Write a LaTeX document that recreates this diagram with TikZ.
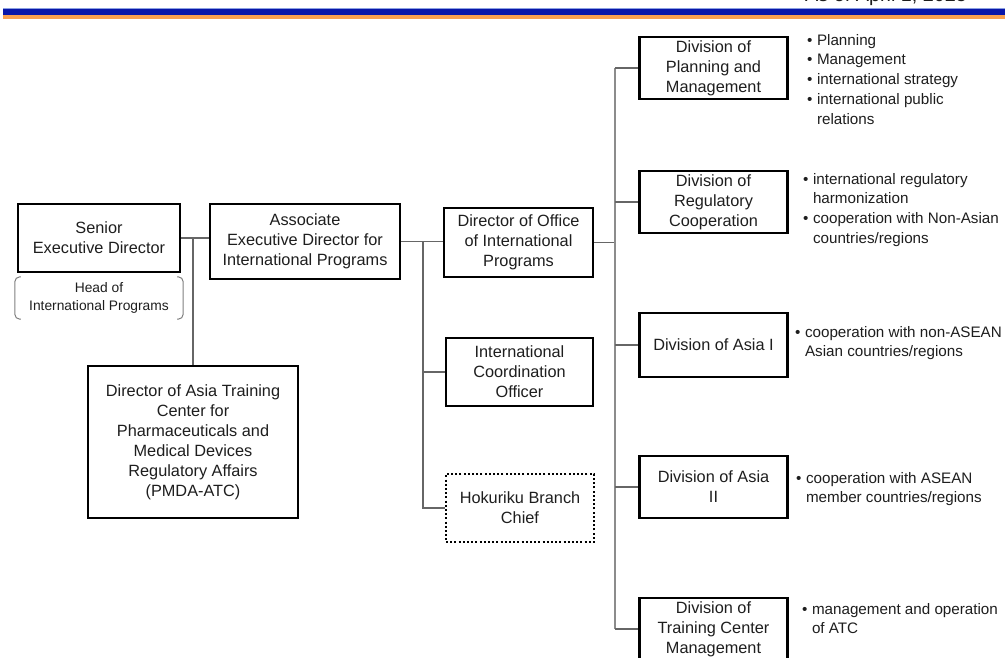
\documentclass[tikz,border=0pt]{standalone}
\usepackage{fontspec}
\setmainfont{Liberation Sans}
\usetikzlibrary{calc}
\definecolor{hdrblue}{RGB}{8,22,170}
\definecolor{hdrlight}{RGB}{140,160,225}
\definecolor{hdrorange}{RGB}{248,160,80}
\definecolor{txt}{RGB}{30,30,30}
\newcommand\boxfont{\fontsize{16.3}{20}\selectfont}
\newcommand\notefont{\fontsize{15.2}{19.8}\selectfont}
\newcommand\headfont{\fontsize{13.8}{18}\selectfont}
\tikzset{
  box/.style={draw=black, line width=2.4pt, rectangle, inner sep=0pt, align=center, font=\boxfont, text=txt},
  dotbox/.style={box, line width=2.4pt, dash pattern=on 2pt off 2.2pt},
  conn/.style={draw=black!60, line width=1.2pt},
  bus/.style={draw=black!45, line width=2pt},
  bracket/.style={draw=black!50, line width=1pt, rounded corners=5pt},
  notes/.style={anchor=base west, inner sep=0pt, font=\notefont, text=txt},
}
\begin{document}
\begin{tikzpicture}[x=1pt, y=-1pt]
\useasboundingbox (0,0) rectangle (1005,657);
\fill[white] (0,0) rectangle (1005,657);
% header band
\fill[hdrlight] (3,7.8) rectangle (1005,9);
\fill[hdrblue] (3,9) rectangle (1005,15.3);
\fill[hdrorange] (3,15.3) rectangle (1005,19);
\node[anchor=base west, inner sep=0pt, font=\fontsize{19.8}{20}\selectfont, text=txt] (asof) at (805,1.5) {As of April 1, 2025};

% left column
\node[box, minimum width=162pt, minimum height=68pt] (sed) at (99,238) {Senior\\Executive Director};
\node[inner sep=0pt, minimum width=168pt, minimum height=42pt, align=center, font=\headfont, text=txt] (head) at (99,298) {Head of\\International Programs};
\draw[bracket] ([xshift=6pt]head.north west) -- (head.north west) -- (head.south west) -- ([xshift=6pt]head.south west);
\draw[bracket] ([xshift=-6pt]head.north east) -- (head.north east) -- (head.south east) -- ([xshift=-6pt]head.south east);
\node[box, minimum width=210pt, minimum height=152pt] (atc) at (193,442) {Director of Asia Training\\Center for\\Pharmaceuticals and\\Medical Devices\\Regulatory Affairs\\(PMDA-ATC)};

% associate
\node[box, minimum width=190pt, minimum height=75pt] (aed) at (305,241.5) {Associate\\Executive Director for\\International Programs};

% middle column
\node[box, minimum width=149pt, minimum height=69pt] (doip) at (518.5,242.5) {Director of Office\\of International\\Programs};
\node[box, minimum width=147pt, minimum height=68pt] (ico) at (519.5,372) {International\\Coordination\\Officer};
\node[dotbox, minimum width=148pt, minimum height=68pt] (hbc) at (520,508) {Hokuriku Branch\\Chief};

% right column
\node[box, minimum width=148pt, minimum height=62pt] (dpm) at (713.5,68) {Division of\\Planning and\\Management};
\node[box, minimum width=148pt, minimum height=62pt] (drc) at (713.5,202) {Division of\\Regulatory\\Cooperation};
\node[box, minimum width=148pt, minimum height=64pt] (da1) at (713.5,345) {Division of Asia I};
\node[box, minimum width=148pt, minimum height=62pt] (da2) at (713.5,487) {Division of Asia\\II};
\node[box, minimum width=148pt, minimum height=62pt] (dtc) at (713.5,629) {Division of\\Training Center\\Management};

% notes
\node[notes] (npm) at (807,45) {\begin{tabular}[t]{@{}l@{\hspace{4.5pt}}l@{}}•&Planning\\•&Management\\•&international strategy\\•&international public\\&relations\end{tabular}};
\node[notes] (nrc) at (803,184) {\begin{tabular}[t]{@{}l@{\hspace{4.5pt}}l@{}}•&international regulatory\\&harmonization\\•&cooperation with Non-Asian\\&countries/regions\end{tabular}};
\node[notes] (na1) at (795,337) {\begin{tabular}[t]{@{}l@{\hspace{4.5pt}}l@{}}•&cooperation with non-ASEAN\\&Asian countries/regions\end{tabular}};
\node[notes] (na2) at (796,483) {\begin{tabular}[t]{@{}l@{\hspace{4.5pt}}l@{}}•&cooperation with ASEAN\\&member countries/regions\end{tabular}};
\node[notes] (ntc) at (802,614) {\begin{tabular}[t]{@{}l@{\hspace{4.5pt}}l@{}}•&management and operation\\&of ATC\end{tabular}};

% connectors
\draw[conn] (sed.east) -- (sed.east -| aed.west);
\draw[conn] (atc.north) -- (atc.north |- sed.east);
\draw[conn] (aed.east) -- (aed.east -| doip.west);
\coordinate (j2) at (423,241.5);
\draw[conn] (j2) |- (ico.west);
\draw[conn] (j2) |- (hbc.west);
\coordinate (j3) at (615,242.5);
\draw[conn] (doip.east) -- (j3);
\coordinate (bustop) at (615,68);
\draw[bus] (bustop) -- (bustop |- dtc.west);
\draw[conn] (bustop) -- (dpm.west);
\draw[conn] (bustop |- drc.west) -- (drc.west);
\draw[conn] (bustop |- da1.west) -- (da1.west);
\draw[conn] (bustop |- da2.west) -- (da2.west);
\draw[conn] (bustop |- dtc.west) -- (dtc.west);
\end{tikzpicture}
\end{document}
